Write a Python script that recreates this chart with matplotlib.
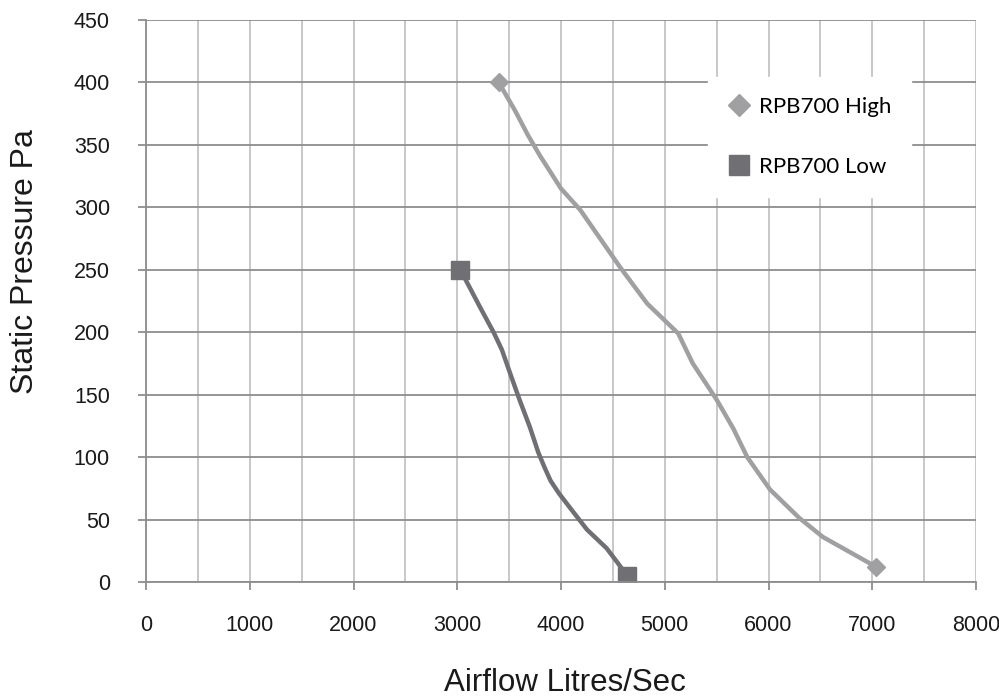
import matplotlib.pyplot as plt
from matplotlib.ticker import MultipleLocator

# curve readings (airflow l/s, static pressure Pa)
high_x = [3400, 3560, 3680, 3800, 4000, 4185, 4570, 4830, 5130, 5270, 5500, 5660, 5795, 6015, 6300, 6525, 7040]
high_y = [400, 377, 358, 341, 315, 298, 252, 223, 199, 175, 146, 123, 100, 74, 51, 36, 12]

low_x = [3030, 3220, 3350, 3430, 3510, 3600, 3700, 3780, 3840, 3900, 3980, 4100, 4250, 4440, 4640]
low_y = [250, 220, 200, 186, 167, 146, 124, 104, 92, 81, 71, 58, 42, 27, 5]

labels = ["RPB700 High", "RPB700 Low"]
high_color = "#a0a0a2"
low_color = "#707074"

W, H = 999, 697
fig = plt.figure(figsize=(W / 100, H / 100), dpi=100)
ax = fig.add_axes([146 / W, 1 - 582 / H, (976 - 146) / W, (582 - 20) / H])

ax.plot(high_x, high_y, color=high_color, lw=3.2, marker="D", ms=9.5,
        markevery=[0, len(high_x) - 1], label=labels[0], solid_capstyle="round",
        solid_joinstyle="round")
ax.plot(low_x, low_y, color=low_color, lw=3.2, marker="s", ms=13,
        markevery=[0, len(low_x) - 1], label=labels[1], solid_capstyle="round",
        solid_joinstyle="round")

ax.set_xlim(0, 8000)
ax.set_ylim(0, 450)
ax.xaxis.set_major_locator(MultipleLocator(1000))
ax.xaxis.set_minor_locator(MultipleLocator(500))
ax.yaxis.set_major_locator(MultipleLocator(50))

ax.grid(axis="y", which="major", color="#8e8e8e", lw=1.3)
ax.grid(axis="x", which="both", color="#c4c4c6", lw=1.3)
ax.set_axisbelow(True)

for s in ["top", "right"]:
    ax.spines[s].set_visible(False)
for s in ["left", "bottom"]:
    ax.spines[s].set_color("#8e8e8e")
    ax.spines[s].set_linewidth(1.3)

ax.tick_params(axis="both", which="major", length=6, width=1.3, color="#8e8e8e",
               labelcolor="#1a1a1a")
ax.tick_params(axis="x", which="minor", length=0)
ax.tick_params(axis="y", pad=20)
ax.tick_params(axis="x", pad=18)
for lab in ax.get_xticklabels() + ax.get_yticklabels():
    lab.set_fontfamily("Liberation Sans")
    lab.set_fontsize(15.5)

fig.text(565 / W, 1 - 691 / H, "Airflow Litres/Sec", ha="center", va="baseline",
         fontsize=22.5, family="Liberation Sans", color="#1a1a1a")
fig.text(25 / W, 1 - 262 / H, "Static Pressure Pa", ha="center", va="center",
         rotation=90, fontsize=23, family="Liberation Sans", color="#1a1a1a")

leg = ax.legend(loc="upper left", bbox_to_anchor=((708 - 146) / 830, (582 - 77) / 562),
                frameon=True, fancybox=False, edgecolor="white", facecolor="white",
                framealpha=1, prop={"family": "Lato", "size": 16},
                handlelength=1.0, handletextpad=0.4, labelspacing=1.8,
                borderpad=0.9, borderaxespad=0, markerscale=1.15)
for h in leg.legend_handles:
    h.set_linestyle("none")

fig.savefig("out.png", dpi=100)
